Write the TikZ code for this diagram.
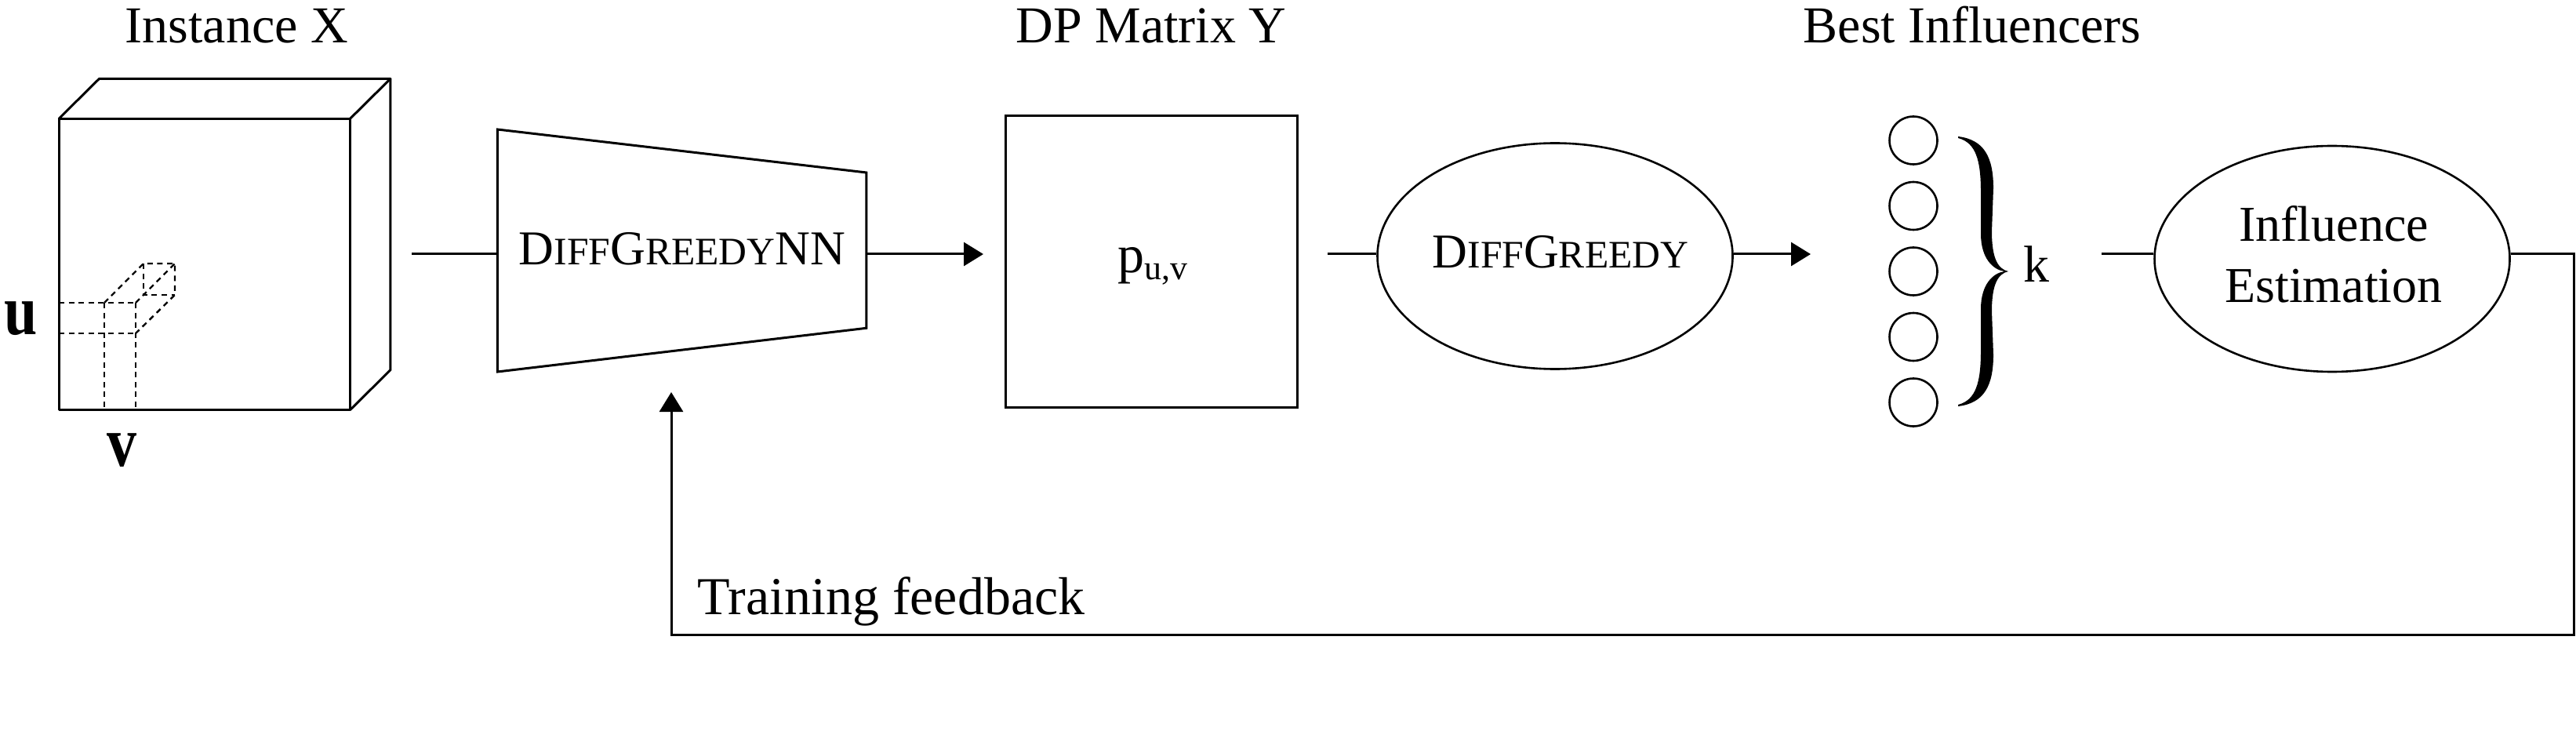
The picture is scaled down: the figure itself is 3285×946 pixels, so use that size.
\documentclass[tikz,border=0pt]{standalone}
\usepackage{fontspec}
\setmainfont{Liberation Serif}
\usetikzlibrary{arrows.meta,shapes.geometric,calc}
\newcommand{\fsc}[1]{{\fontsize{24.8}{30}\selectfont #1}}
\begin{document}
\begin{tikzpicture}[x=0.5pt,y=-0.5pt,
  ln/.style={line width=1.5pt},
  arr/.style={line width=1.5pt,-{Triangle[length=12.5pt,width=15pt]}},
  dsh/.style={line width=1.2pt,dash pattern=on 3.5pt off 2.8pt},
  lbl/.style={font=\fontsize{33}{39}\selectfont,inner sep=0pt},
  alg/.style={font=\fontsize{31}{37}\selectfont,inner sep=0pt},
  axl/.style={font=\fontsize{38}{44}\selectfont\bfseries,inner sep=0pt,anchor=base},
  ell/.style={ellipse,draw,line width=1.3pt,minimum width=226.5pt,minimum height=144pt,inner sep=0pt},
  seed/.style={circle,draw,line width=1.3pt,minimum size=30.5pt,inner sep=0pt},
  boxst/.style={draw,line width=1.5pt,minimum width=186pt,minimum height=185.5pt,inner sep=0pt}]
\useasboundingbox (0,0) rectangle (3285,946);
% titles
\node[lbl,anchor=base] (tX) at (302,55) {Instance X};
\node[lbl,anchor=base] (tY) at (1468,55) {DP Matrix Y};
\node[lbl,anchor=base] (tB) at (2515,55) {Best Influencers};
% cube
\draw[ln,line join=round] (75,151.4) rectangle (446.4,522.7);
\draw[ln,line join=round] (75,151.4) -- (126.5,100.4) -- (497.9,100.4) -- (446.4,151.4);
\draw[ln,line join=round] (497.9,100.4) -- (497.9,471.7) -- (446.4,522.7);
\draw[dsh] (75,386) -- (173,386);
\draw[dsh] (75,425) -- (173,425);
\draw[dsh] (133,386) -- (133,522.7);
\draw[dsh] (173,386) -- (173,522.7);
\draw[dsh] (133,386) -- (183,336) -- (223,336) -- (223,376) -- (173,425);
\draw[dsh] (173,386) -- (223,336);
\draw[dsh] (183,336) -- (183,376) -- (223,376);
\node[axl] (lu) at (27,426) {\scalebox{1}[1.2]{u}};
\node[axl] (lv) at (155.5,594) {\scalebox{1}[1.2]{v}};
\coordinate (cubeout) at (525,324);
% trapezoid network
\draw[ln] (634.4,165) -- (1104.8,220) -- (1104.8,418.3) -- (634.4,474) -- cycle;
\node[alg,anchor=base] (nn) at (870,338) {D\fsc{IFF}G\fsc{REEDY}NN};
\coordinate (trapL) at (634.4,324);
\coordinate (trapR) at (1104.8,324);
% DP matrix
\node[boxst] (dp) at (1468,333.5) {};
\node[inner sep=0pt,anchor=base west,font=\fontsize{34}{40}\selectfont] (puv) at (1425,348) {p\raisebox{-4.5pt}{\fontsize{22}{26}\selectfont u,v}};
\coordinate (dpin) at (1254,324);
\coordinate (dpout) at (1693,324);
% DiffGreedy
\node[ell] (dg) at (1983,326.5) {};
\node[alg,anchor=base] (dgt) at (1990,342) {D\fsc{IFF}G\fsc{REEDY}};
\coordinate (seedin) at (2309,324);
% seeds
\node[seed] (c1) at (2440,179) {};
\node[seed] (c2) at (2440,262.5) {};
\node[seed] (c3) at (2440,346) {};
\node[seed] (c4) at (2440,429.5) {};
\node[seed] (c5) at (2440,513) {};
\fill (2497,174) .. controls (2530,178) and (2542,200) .. (2542,240) -- (2540,295)
  .. controls (2540,330) and (2548,343) .. (2561,346)
  .. controls (2548,349) and (2540,362) .. (2540,397) -- (2542,452)
  .. controls (2542,492) and (2530,514) .. (2497,518)
  -- (2497,516) .. controls (2520,510) and (2526,487) .. (2526,447) -- (2526,394)
  .. controls (2526,362) and (2542,348) .. (2556,346)
  .. controls (2542,344) and (2526,330) .. (2526,298) -- (2526,245)
  .. controls (2526,205) and (2520,182) .. (2497,176) -- cycle;
\node[lbl,anchor=base west] (k) at (2580,360) {k};
% influence estimation
\coordinate (ieIn) at (2680,324);
\node[ell] (ie) at (2974,330) {};
\node[lbl,anchor=base,font=\fontsize{32}{38}\selectfont] (iet1) at (2976,308) {Influence};
\node[lbl,anchor=base,font=\fontsize{32}{38}\selectfont] (iet2) at (2976,386) {Estimation};
% feedback
\coordinate (fb1) at (3282,324);
\coordinate (fb2) at (3282,809);
\coordinate (fb3) at (856,809);
\coordinate (fbtip) at (856,500);
\node[lbl,anchor=base west,font=\fontsize{34}{40}\selectfont] (tf) at (889,783) {Training feedback};
% connectors
\draw[ln] (cubeout) -- (trapL);
\draw[arr] (trapR) -- (dpin);
\draw[ln] (dpout) -- (dpout -| dg.west);
\draw[arr] (dg.east |- seedin) -- (seedin);
\draw[ln] (ieIn) -- (ieIn -| ie.west);
\draw[arr,line join=miter] (ie.east |- fb1) -- (fb1) -- (fb2) -- (fb3) -- (fbtip);
\end{tikzpicture}
\end{document}
